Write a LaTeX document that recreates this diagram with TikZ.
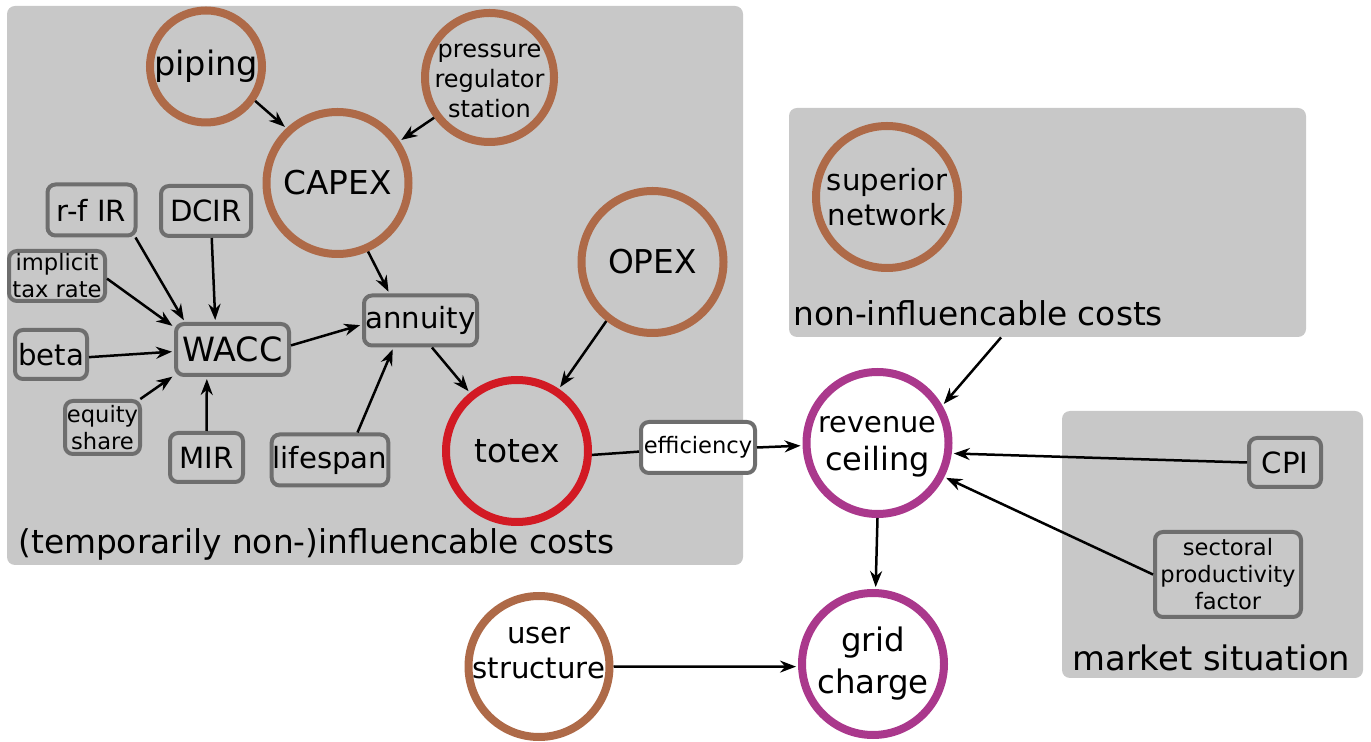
\documentclass[tikz,border=0pt]{standalone}
\usepackage{fontspec}
\setmainfont{DejaVu Sans}
\usetikzlibrary{arrows.meta}

\definecolor{ringbrown}{RGB}{174,106,72}
\definecolor{ringred}{RGB}{210,26,36}
\definecolor{ringpurple}{RGB}{170,56,140}
\definecolor{boxgray}{RGB}{110,110,110}
\definecolor{panelgray}{RGB}{200,200,200}
\newcommand{\fsz}[2]{\fontsize{#1}{#2}\selectfont}

\begin{document}
\begin{tikzpicture}[x=0.5pt,y=-0.5pt,
    every node/.style={inner sep=0.5pt},
    panel/.style={rectangle,rounded corners=4pt,fill=panelgray,inner sep=0pt},
    ring/.style={circle,line width=4pt,draw=ringbrown,inner sep=-8pt,minimum size=71pt,align=center},
    box/.style={rectangle,rounded corners=4pt,line width=2pt,draw=boxgray,align=center},
    bigtext/.style={font=\fsz{16.4}{19.5}},
    midtext/.style={font=\fsz{14.6}{17.5}},
    smalltext/.style={font=\fsz{11.3}{13.5}},
    arrow/.style={-{Stealth[length=8pt,width=6pt]},line width=1.25pt,shorten >=1pt}
]
\useasboundingbox (0,0) rectangle (1371,742);

% Panels
\node[panel,minimum width=368pt,minimum height=279.5pt] (inflpanel) at (375,285.5) {};
\node[panel,minimum width=258.5pt,minimum height=114.5pt] (noninflpanel) at (1047.5,222.5) {};
\node[panel,minimum width=150.5pt,minimum height=133.5pt] (marketpanel) at (1212.5,544.5) {};

\node[bigtext,anchor=base west] (infllabel) at (17,554) {(temporarily non-)influencable costs};
\node[bigtext,anchor=base west] (noninfllabel) at (792,326) {non-influencable costs};
\node[font=\fsz{16.9}{20},anchor=base west] (marketlabel) at (1071,671) {market situation};

% Cost drivers
\node[ring,font=\fsz{16.8}{20},minimum size=56pt] (piping) at (206,66.5) {piping};
\node[ring,font=\fsz{12}{15},text height=40.5pt,minimum size=64.5pt] (regulator) at (489.5,77.5) {pressure\\regulator\\station};
\node[ring,bigtext] (capex) at (337.5,183) {CAPEX};
\node[ring,bigtext] (opex) at (652.5,262) {OPEX};
\node[ring,bigtext,draw=ringred] (totex) at (517,451) {totex};

% Capital costs
\node[box,midtext,minimum width=44pt,minimum height=25.5pt] (rfir) at (91.5,210) {r-f IR};
\node[box,midtext,minimum width=45pt,minimum height=25pt] (dcir) at (206,211) {DCIR};
\node[box,smalltext,minimum width=48pt,minimum height=25pt] (taxrate) at (57,276) {implicit\\tax rate};
\node[box,midtext,minimum width=36pt,minimum height=24.5pt] (beta) at (51,354.5) {beta};
\node[box,font=\fsz{16.7}{20},minimum width=56.5pt,minimum height=25.5pt] (wacc) at (232.5,349.5) {WACC};
\node[box,smalltext,minimum width=37.5pt,minimum height=26.5pt] (equity) at (102.5,427.5) {equity\\share};
\node[box,midtext,minimum width=36.5pt,minimum height=24.5pt] (mir) at (206.5,457.5) {MIR};
\node[box,midtext,minimum width=57pt,minimum height=25.5pt] (lifespan) at (330,460) {lifespan};
\node[box,midtext,minimum width=56.5pt,minimum height=25pt] (annuity) at (420.5,320.5) {annuity};
\node[box,smalltext,fill=white,minimum width=57pt,minimum height=25.5pt] (efficiency) at (698,447.5) {efficiency};

% Revenue side
\node[ring,midtext] (superior) at (887,197) {superior\\network};
\node[ring,draw=ringpurple,fill=white,font=\fsz{16}{19},text depth=0pt] (revenue) at (877.5,443) {{\fsz{14.4}{19}revenue}\\ceiling};
\node[ring,draw=ringpurple,fill=white,font=\fsz{16.2}{21}] (grid) at (873,664) {grid\\charge};
\node[ring,midtext,fill=white,text depth=14pt,minimum size=70.5pt] (users) at (539,666.5) {user\\structure};
\node[box,midtext,minimum width=36pt,minimum height=24.5pt] (cpi) at (1285,462.5) {CPI};
\node[box,smalltext,minimum width=73pt,minimum height=42.5pt] (productivity) at (1228,574.5) {sectoral\\productivity\\factor};

% Connections
\draw[arrow] (piping.-35) -- (capex.133);
\draw[arrow] (regulator.216) -- (capex.34);
\draw[arrow] (capex.-66) -- (annuity.139);
\draw[arrow] (rfir.-32) -- (wacc.150);
\draw[arrow] (dcir.-78) -- (wacc.122);
\draw[arrow] (taxrate.-3) -- (wacc.159);
\draw[arrow] (beta.-4) -- (wacc.182);
\draw[arrow] (equity.37) -- (wacc.204);
\draw[arrow] (mir.north) -- (wacc.-133);
\draw[arrow] (wacc.4) -- (annuity.184);
\draw[arrow] (lifespan.45) -- (annuity.-135);
\draw[arrow] (annuity.-67) -- (totex.129);
\draw[arrow] (opex.-128) -- (totex.56);
\draw[line width=1.25pt] (totex.-3) -- (efficiency.184);
\draw[arrow] (efficiency.east) -- (revenue.182);
\draw[arrow] (noninflpanel.-112) -- (revenue.30);
\draw[arrow] (cpi.west) -- (revenue.-8);
\draw[arrow] (productivity.west) -- (revenue.-27);
\draw[arrow] (revenue.south) -- (grid.88);
\draw[arrow] (users.east) -- (grid.182);

\end{tikzpicture}
\end{document}
